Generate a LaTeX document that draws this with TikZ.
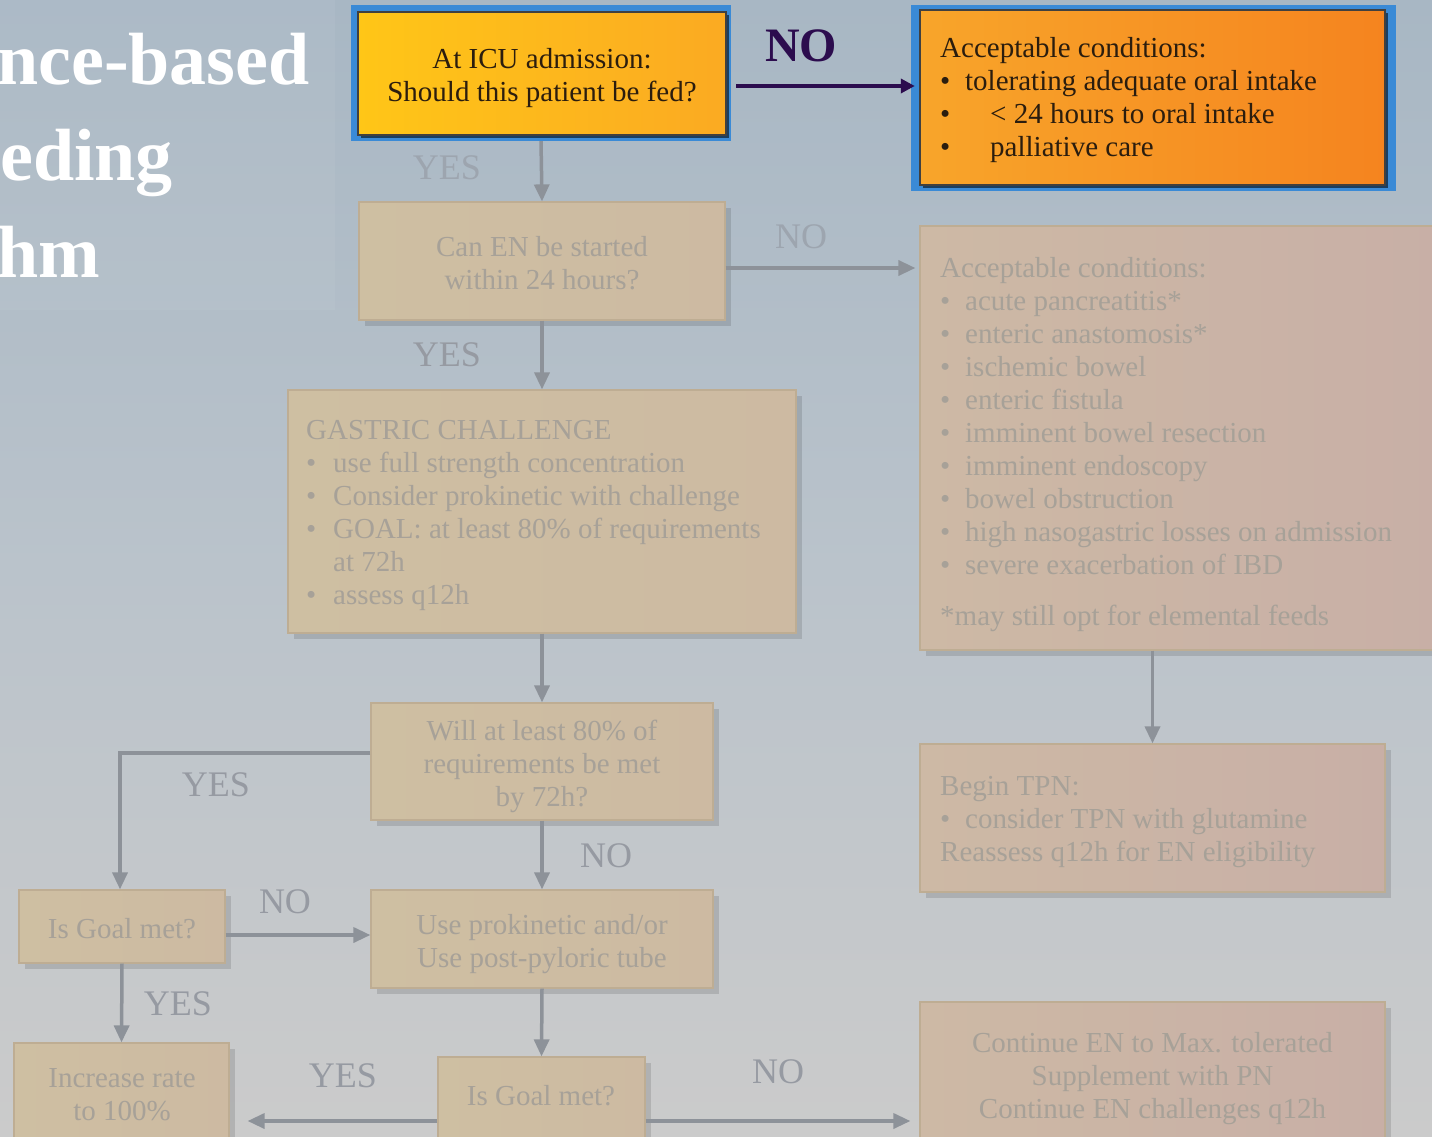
\documentclass[tikz,border=0pt]{standalone}
\usepackage{fontspec}
\setmainfont{Liberation Serif}
\usetikzlibrary{arrows.meta,shadows}

\definecolor{bgtop}{HTML}{A8B7C4}
\definecolor{bgmid}{HTML}{BAC3CB}
\definecolor{bgbot}{HTML}{CBCBCB}
\definecolor{tanA}{HTML}{CEBFA2}
\definecolor{tanB}{HTML}{CDBAA2}
\definecolor{pinkA}{HTML}{CDB9A5}
\definecolor{pinkB}{HTML}{C8AFA6}
\definecolor{tanline}{HTML}{BEAD93}
\definecolor{fadetext}{HTML}{A7A198}
\definecolor{fadelabel}{HTML}{969AA2}
\definecolor{palelabel}{HTML}{9DA5AF}
\definecolor{fadearrow}{HTML}{8D9299}
\definecolor{frameblue}{HTML}{3A8AD6}
\definecolor{noink}{HTML}{2C0C4E}
\definecolor{darkink}{HTML}{2B1D0E}
\definecolor{yelA}{HTML}{FFC617}
\definecolor{yelB}{HTML}{FBAA22}
\definecolor{orA}{HTML}{F8A52A}
\definecolor{orB}{HTML}{F5841F}

\newcommand\boxfont{\fontsize{29}{33}\selectfont}
\newcommand\labelfont{\fontsize{36}{40}\selectfont}
\newcommand\nofont{\fontsize{48}{52}\selectfont\bfseries}
\newcommand\titlefont{\fontsize{74}{96}\selectfont\bfseries}
\newcommand\bul[1]{\makebox[#1][l]{•}}
% a first-line strut that is taller than \strut, to sit the lines a little lower
\newcommand\topstrut{\rule[-9.9pt]{0pt}{42.9pt}}

\begin{document}
\begin{tikzpicture}[x=1pt,y=-1pt,
  bluefr/.style={rectangle, fill=frameblue, inner sep=0pt},
  hotbox/.style={rectangle, draw=black!75, line width=1.2pt, inner sep=0pt,
    text=darkink, font=\boxfont, align=center,
    drop shadow={shadow xshift=3pt, shadow yshift=-3pt, opacity=0.55, fill=black}},
  tanbox/.style={rectangle, draw=tanline, line width=1.2pt, inner sep=0pt,
    text=fadetext, font=\boxfont, align=center, left color=tanA, right color=tanB,
    drop shadow={shadow xshift=6pt, shadow yshift=-6pt, opacity=0.12, fill=black}},
  pinkbox/.style={tanbox, left color=pinkA, right color=pinkB},
  listtxt/.style={anchor=north west, inner sep=0pt, align=left, font=\boxfont,
    execute at begin node=\strut},
  ctrtxt/.style={inner sep=0pt, align=center, font=\boxfont, text=fadetext},
  lbl/.style={font=\labelfont, text=fadelabel, inner sep=0pt},
  fadearr/.style={draw=fadearrow, line width=3.5pt, -{Triangle[length=17pt,width=15pt]}},
  noarr/.style={draw=noink, line width=4pt, -{Triangle[length=14pt,width=14pt]}},
  ttl/.style={anchor=base west, inner sep=0pt, font=\titlefont, text=white},
]
\useasboundingbox (0,0) rectangle (1432,1137);
\clip (0,0) rectangle (1432,1137);

% slide background
\shade[top color=bgtop, bottom color=bgbot, middle color=bgmid] (0,0) rectangle (1432,1137);
\fill[white, opacity=0.05] (0,0) rectangle (335,310);

% title
\node[ttl] (t1) at (-3,85) {nce-based};
\node[ttl] (t2) at (0,180) {eding};
\node[ttl] (t3) at (-3,277) {hm};

% highlighted first decision
\node[bluefr, minimum width=380pt, minimum height=136pt] (q1f) at (541,73) {};
\node[hotbox, left color=yelA, right color=yelB, minimum width=368pt, minimum height=123pt]
  (q1) at (542,73.5) {\topstrut At ICU admission:\\\strut Should this patient be fed?};

% highlighted "no feeding" conditions
\node[bluefr, minimum width=485pt, minimum height=186pt] (trf) at (1153.5,98) {};
\node[hotbox, left color=orA, right color=orB, minimum width=465pt, minimum height=175pt]
  (tr) at (1152.5,97.5) {};
\node[listtxt, text=darkink] (trt) at (940,37.5) {Acceptable conditions:\\
  \bul{25pt}tolerating adequate oral intake\\
  \bul{50pt}< 24 hours to oral intake\\
  \bul{50pt}palliative care};

% faded flow boxes
\node[tanbox, minimum width=366pt, minimum height=118pt] (en) at (542,261)
  {\topstrut Can EN be started\\\strut within 24 hours?};

\node[tanbox, minimum width=508pt, minimum height=243pt] (gc) at (542,511.5) {};
\node[listtxt, text=fadetext] (gct) at (306,420.5) {GASTRIC CHALLENGE\\
  \bul{27pt}use full strength concentration\\
  \bul{27pt}Consider prokinetic with challenge\\
  \bul{27pt}GOAL: at least 80\% of requirements\\
  \hspace*{27pt}at 72h\\
  \bul{27pt}assess q12h};

\node[pinkbox, minimum width=525pt, minimum height=424pt] (ac) at (1182.5,438) {};
\node[listtxt, text=fadetext] (act) at (940,257) {Acceptable conditions:\\
  \bul{25pt}acute pancreatitis*\\
  \bul{25pt}enteric anastomosis*\\
  \bul{25pt}ischemic bowel\\
  \bul{25pt}enteric fistula\\
  \bul{25pt}imminent bowel resection\\
  \bul{25pt}imminent endoscopy\\
  \bul{25pt}bowel obstruction\\
  \bul{25pt}high nasogastric losses on admission\\
  \bul{25pt}severe exacerbation of IBD\\[18pt]
  *may still opt for elemental feeds};

\node[pinkbox, minimum width=465pt, minimum height=148pt] (tpn) at (1152.5,818) {};
\node[listtxt, text=fadetext] (tpnt) at (940,776) {Begin TPN:\\
  \bul{25pt}consider TPN with glutamine\\
  Reassess q12h for EN eligibility};

\node[tanbox, minimum width=342pt, minimum height=117pt] (w80) at (542,761.5)
  {\topstrut Will at least 80\% of\\\strut requirements be met\\\strut by 72h?};

\node[tanbox, minimum width=342pt, minimum height=98pt] (pk) at (542,939)
  {\topstrut Use prokinetic and/or\\\strut Use post-pyloric tube};

\node[tanbox, minimum width=206pt, minimum height=73pt] (g1) at (122,926.5)
  {\topstrut Is Goal met?};

\node[tanbox, minimum width=215pt, minimum height=102pt] (inc) at (121.5,1094) {};
\node[ctrtxt] (inct) at (122,1097) {\strut Increase rate\\\strut to 100\%};

\node[tanbox, minimum width=207pt, minimum height=88pt] (g2) at (541.5,1101) {};
\node[ctrtxt] (g2t) at (541,1099) {\strut Is Goal met?};

\node[pinkbox, minimum width=465pt, minimum height=143pt] (cont) at (1152.5,1073.5)
  {\topstrut Continue EN to Max. tolerated\\\strut Supplement with PN\\\strut Continue EN challenges q12h};

% connectors
\draw[noarr, shorten <=5pt, shorten >=-4pt] ([yshift=-13pt]q1f.east) -- ([yshift=-13pt]q1f.east -| trf.west);
\draw[fadearr] (q1f.south) -- (en.north);
\draw[fadearr, shorten >=4pt] ([yshift=-7pt]en.east) -- ([yshift=-7pt]en.east -| ac.west);
\draw[fadearr] (en.south) -- (gc.north);
\draw[fadearr] (ac.south -| tpn.north) -- (tpn.north);
\draw[fadearr] (gc.south) -- (w80.north);
\draw[fadearr] ([yshift=8.5pt]w80.west) -| ([xshift=-2pt]g1.north);
\draw[fadearr] (w80.south) -- (pk.north);
\draw[fadearr] ([yshift=-8.5pt]g1.east) -- ([yshift=-8.5pt]g1.east -| pk.west);
\draw[fadearr] (g1.south) -- (inc.north);
\draw[fadearr] (pk.south) -- (g2.north);
\draw[fadearr, shorten >=18pt] ([yshift=-20pt]g2.west) -- ([yshift=-20pt]g2.west -| inc.east);
\draw[fadearr, shorten >=9pt] ([yshift=-20pt]g2.east) -- ([yshift=-20pt]g2.east -| cont.west);

% branch labels
\node[font=\nofont, text=noink, inner sep=0pt] (no1) at (801,46) {NO};
\node[lbl, text=palelabel] (yes1) at (447,168) {YES};
\node[lbl, text=palelabel] (no2) at (801,237) {NO};
\node[lbl] (yes2) at (447,355) {YES};
\node[lbl] (yes3) at (216,785) {YES};
\node[lbl] (no3) at (606,856) {NO};
\node[lbl] (no4) at (285,902) {NO};
\node[lbl] (yes4) at (178,1004) {YES};
\node[lbl] (yes5) at (343,1076) {YES};
\node[lbl] (no5) at (778,1072) {NO};
\end{tikzpicture}
\end{document}
